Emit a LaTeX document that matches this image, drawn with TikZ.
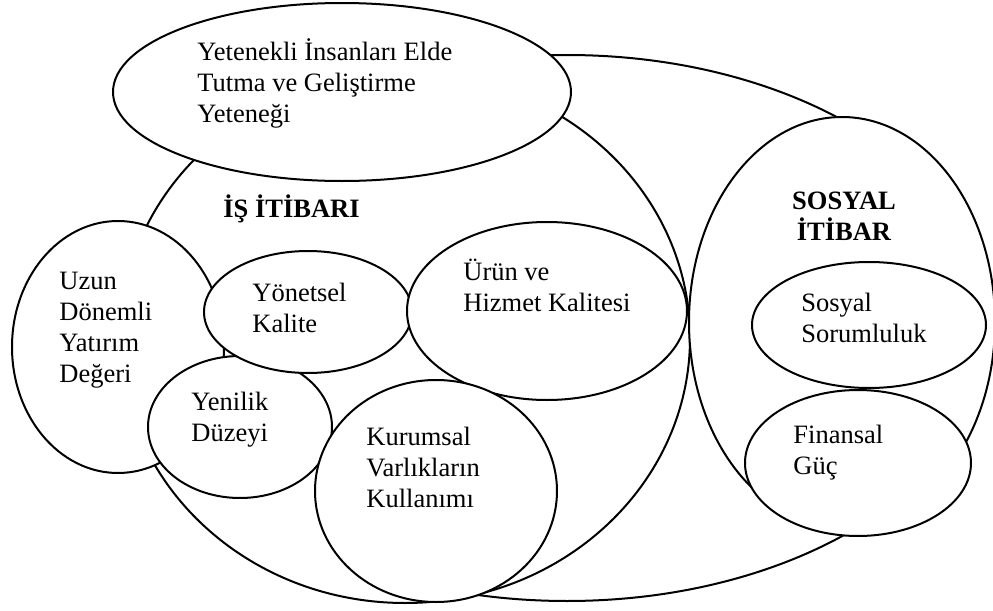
\documentclass[tikz,border=0pt]{standalone}
\usepackage{fontspec}
\setmainfont{Liberation Serif}
\usetikzlibrary{shapes.geometric}

\begin{document}
\begin{tikzpicture}[x=0.5pt,y=-0.5pt,
    oval/.style={ellipse,draw=black,fill=white,line width=1pt,inner sep=0pt},
    txt/.style={anchor=base west,inner sep=0pt,align=left,
                font=\fontsize{13.25}{15.5}\selectfont},
    head/.style={anchor=base,inner sep=0pt,align=center,
                 font=\fontsize{13.25}{15.5}\selectfont\bfseries}
  ]
  \useasboundingbox (0,0) rectangle (993,611);
  % outer rings
  \node[oval,minimum width=425pt,minimum height=273pt] (tum) at (567,328) {};
  \node[oval,minimum width=285pt,minimum height=265pt] (is) at (405,338) {};
  \node[oval,minimum width=153pt,minimum height=205pt] (sosyal) at (842,322) {};
  % social side
  \node[oval,minimum width=113pt,minimum height=73pt] (finansal) at (858,463) {};
  \node[oval,minimum width=117pt,minimum height=63pt] (sorumluluk) at (869,325) {};
  % business side
  \node[oval,minimum width=229pt,minimum height=89pt] (yetenek) at (342,92) {};
  \node[oval,minimum width=106pt,minimum height=126pt] (uzun) at (118,347) {};
  \node[oval,minimum width=92pt,minimum height=71pt] (yenilik) at (240,427) {};
  \node[oval,minimum width=104pt,minimum height=61pt] (yonetsel) at (308,312) {};
  \node[oval,minimum width=140pt,minimum height=89pt] (urun) at (547,311) {};
  \node[oval,minimum width=121pt,minimum height=111pt] (kurumsal) at (436,491) {};
  % labels (placed at the baseline of their last line)
  \node[head,anchor=base west] (isT) at (223,217) {İŞ İTİBARI};
  \node[head] (sosyalT) at (844,240) {SOSYAL\\İTİBAR};
  \node[txt] (yetenekT) at (197,122) {Yetenekli İnsanları Elde\\Tutma ve Geliştirme\\Yeteneği};
  \node[txt] (uzunT) at (59,382) {Uzun\\Dönemli\\Yatırım\\Değeri};
  \node[txt] (yonetselT) at (252,332) {Yönetsel\\Kalite};
  \node[txt] (urunT) at (463,311) {Ürün ve\\Hizmet Kalitesi};
  \node[txt] (yenilikT) at (191,441) {Yenilik\\Düzeyi};
  \node[txt] (kurumsalT) at (366,507) {Kurumsal\\Varlıkların\\Kullanımı};
  \node[txt] (sorumlulukT) at (801,342) {Sosyal\\Sorumluluk};
  \node[txt] (finansalT) at (793,474) {Finansal\\Güç};
\end{tikzpicture}
\end{document}
